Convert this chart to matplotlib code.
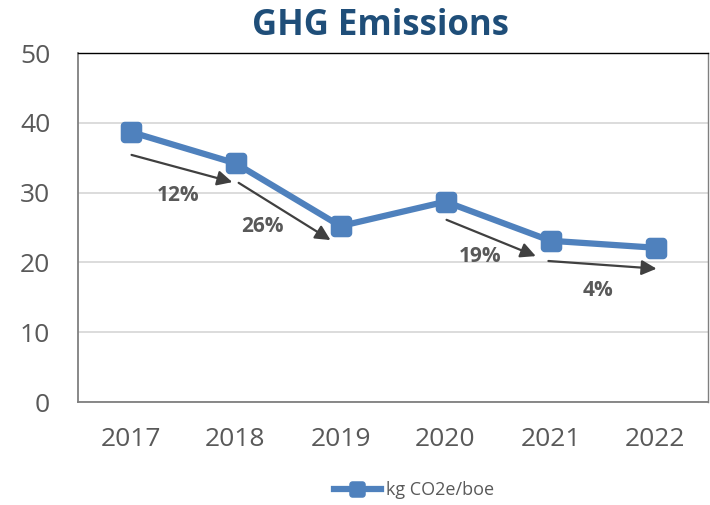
import matplotlib
matplotlib.use("Agg")
import matplotlib.pyplot as plt
import numpy as np
from matplotlib.path import Path

years = ["2017", "2018", "2019", "2020", "2021", "2022"]
values = [38.7, 34.2, 25.2, 28.7, 23.1, 22.1]
series_name = "kg CO2e/boe"
pct_labels = ["12%", "26%", "19%", "4%"]
arrow_starts = [(0.01, 35.4), (1.03, 31.4), (3.01, 26.1), (3.98, 20.2)]
arrow_ends = [(0.97, 31.5), (1.905, 23.2), (3.86, 20.9), (5.01, 19.1)]
label_pos = [(0.45, 29.6), (1.26, 25.2), (3.33, 20.8), (4.45, 16.0)]

plt.rcParams['font.family'] = ['Open Sans', 'DejaVu Sans']

# rounded-square marker
def rounded_square(r=0.35, n=8):
    verts = []
    c = 1 - r
    for (cx, cy, a0) in [(c, c, 0), (-c, c, 90), (-c, -c, 180), (c, -c, 270)]:
        for t in np.linspace(np.radians(a0), np.radians(a0 + 90), n):
            verts.append((cx + r * np.cos(t), cy + r * np.sin(t)))
    verts.append(verts[0])
    codes = [Path.MOVETO] + [Path.LINETO] * (len(verts) - 2) + [Path.CLOSEPOLY]
    return Path(verts, codes)

rsq = rounded_square()

fig = plt.figure(figsize=(7.1, 5.05), dpi=100)
ax = fig.add_axes([78/710, 1-402/505, 630/710, 349/505])

blue = "#4F81BD"
gray = "#595959"
x = list(range(len(years)))
ax.plot(x, values, color=blue, lw=4.5, marker=rsq, markersize=14.5,
        markerfacecolor=blue, markeredgecolor=blue, label=series_name,
        solid_joinstyle='round')

for (s, e) in zip(arrow_starts, arrow_ends):
    ax.annotate("", xy=e, xytext=s,
                arrowprops=dict(arrowstyle="-|>,head_length=0.9,head_width=0.45",
                                color="#404040", lw=1.6, shrinkA=0, shrinkB=0))
for (p, t) in zip(label_pos, pct_labels):
    ax.text(p[0], p[1], t, ha='center', va='center', fontsize=15,
            fontweight='bold', color=gray)

ax.set_xlim(-0.5, 5.5)
ax.set_ylim(0, 50)
ax.set_yticks([0, 10, 20, 30, 40, 50])
ax.set_xticks(x)
ax.set_xticklabels(years)
ax.tick_params(axis='both', length=0, labelsize=19, colors=gray)
ax.tick_params(axis='y', pad=20)
ax.tick_params(axis='x', pad=18)
ax.grid(axis='y', color='#D9D9D9', lw=1.3)
ax.set_axisbelow(True)
for side in ['left', 'bottom']:
    ax.spines[side].set_color('#7F7F7F')
    ax.spines[side].set_linewidth(1.3)
ax.spines['top'].set_color('#000000')
ax.spines['top'].set_linewidth(1.0)
ax.spines['right'].set_color('#7F7F7F')
ax.spines['right'].set_linewidth(1.0)

fig.text(381/710, 1-26/505, "GHG Emissions", ha='center', va='center',
         fontsize=25, fontweight='bold', color='#1F4E79')

leg = fig.legend(loc='center', bbox_to_anchor=(414/710, 1-490/505), frameon=False,
                 fontsize=13, handlelength=2.6, handletextpad=0.3, markerscale=0.75)
for t in leg.get_texts():
    t.set_color(gray)

fig.savefig("out.png", dpi=100)
